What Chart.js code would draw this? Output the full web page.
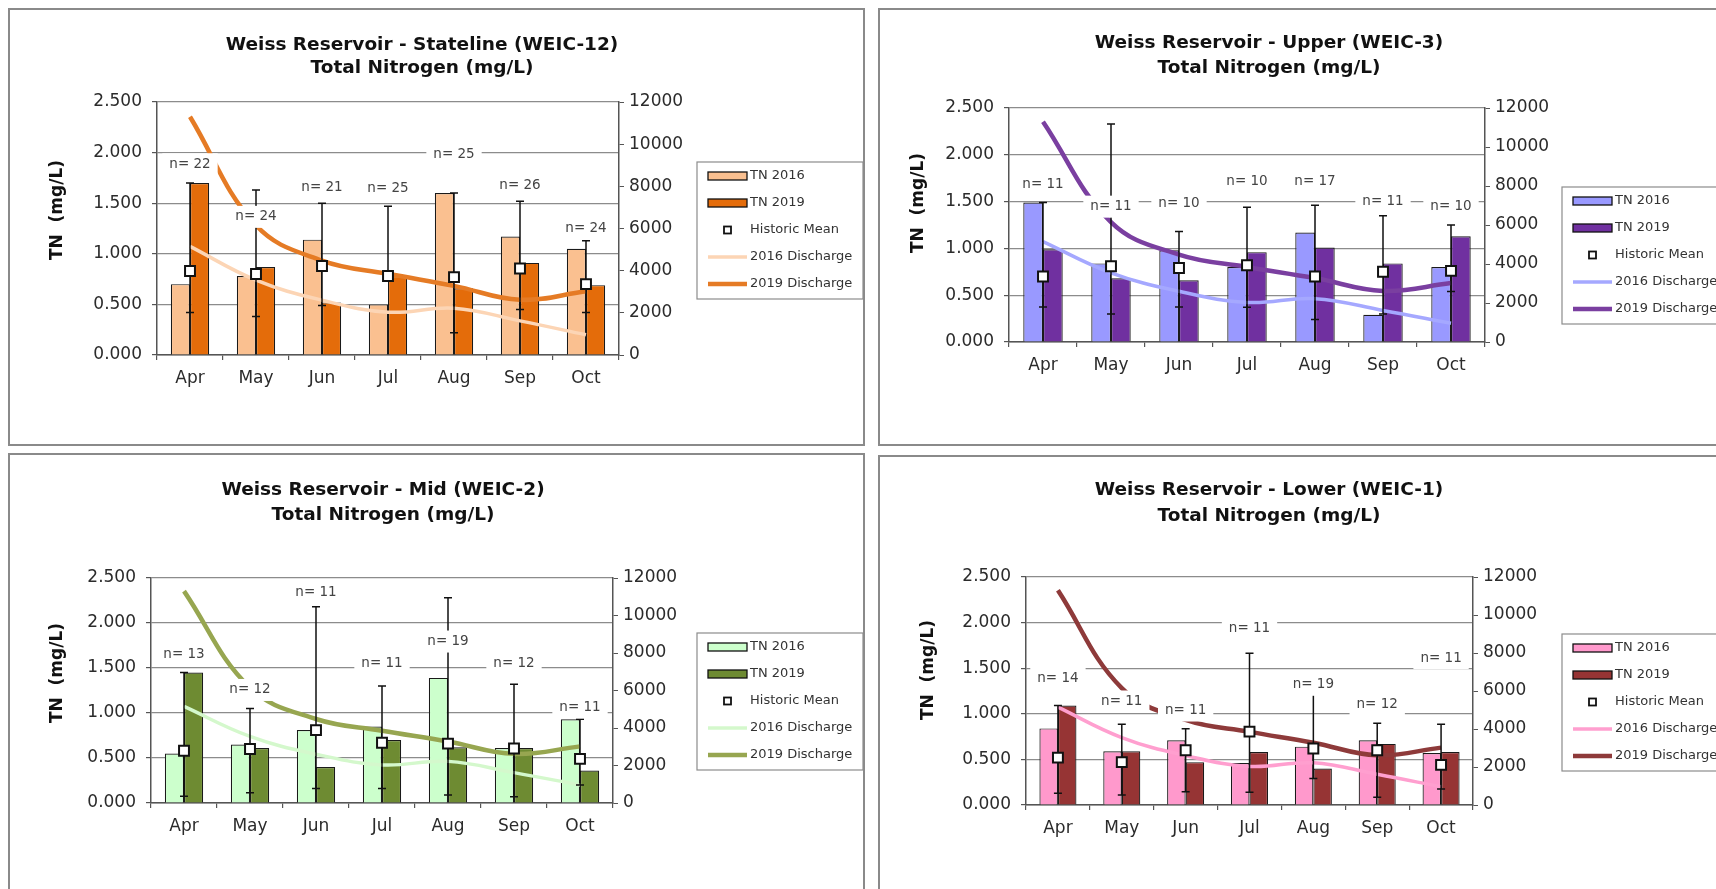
<!DOCTYPE html>
<html>
<head>
<meta charset="utf-8">
<script src="https://cdn.jsdelivr.net/npm/chart.js@4.4.1/dist/chart.umd.min.js"></script>
<style>
  html, body { margin: 0; padding: 0; background: #fff; }
  body { width: 1716px; height: 889px; position: relative; overflow: hidden; }
  .frame { position: absolute; border: 2px solid #8a8a8a; box-sizing: border-box; }
  canvas { position: absolute; }
</style>
</head>
<body>
<div class="frame" style="left:8px;top:8px;width:857px;height:438px"></div>
<div class="frame" style="left:878px;top:8px;width:845px;height:438px"></div>
<div class="frame" style="left:8px;top:453px;width:857px;height:445px"></div>
<div class="frame" style="left:878px;top:455px;width:845px;height:445px"></div>
<canvas id="c1" width="856" height="437" style="left:8px;top:8px"></canvas>
<canvas id="c2" width="838" height="437" style="left:878px;top:8px"></canvas>
<canvas id="c3" width="856" height="436" style="left:8px;top:453px"></canvas>
<canvas id="c4" width="838" height="434" style="left:878px;top:455px"></canvas>
<script>
const months = ["Apr", "May", "Jun", "Jul", "Aug", "Sep", "Oct"];
const leftTicks = [0, 0.5, 1.0, 1.5, 2.0, 2.5];
const rightTicks = [0, 2000, 4000, 6000, 8000, 10000, 12000];
const seriesNames = ["TN 2016", "TN 2019", "Historic Mean", "2016 Discharge", "2019 Discharge"];

// discharge is the same at every station
const discharge2016 = [5150, 3550, 2600, 2030, 2220, 1620, 960];
const discharge2019 = [11300, 6150, 4480, 3850, 3280, 2620, 3020];

// Stateline (WEIC-12)
const statelineTN2016 = [0.70, 0.78, 1.14, 0.50, 1.60, 1.17, 1.05];
const statelineTN2019 = [1.70, 0.87, 0.52, 0.78, 0.66, 0.91, 0.69];
const statelineMean = [0.83, 0.80, 0.88, 0.78, 0.77, 0.855, 0.70];
const statelineHigh = [1.70, 1.63, 1.50, 1.47, 1.60, 1.52, 1.13];
const statelineLow = [0.42, 0.38, 0.49, 0.74, 0.22, 0.45, 0.42];
const statelineN = [22, 24, 21, 25, 25, 26, 24];
const statelineNAt = [1.885, 1.365, 1.655, 1.645, 1.98, 1.67, 1.25];

// Upper (WEIC-3)
const upperTN2016 = [1.49, 0.84, 0.98, 0.80, 1.17, 0.29, 0.80];
const upperTN2019 = [0.99, 0.68, 0.66, 0.96, 1.01, 0.84, 1.13];
const upperMean = [0.70, 0.81, 0.79, 0.82, 0.70, 0.75, 0.76];
const upperHigh = [1.49, 2.33, 1.18, 1.44, 1.46, 1.35, 1.25];
const upperLow = [0.375, 0.30, 0.375, 0.37, 0.24, 0.30, 0.54];
const upperN = [11, 11, 10, 10, 17, 11, 10];
const upperNAt = [1.686, 1.446, 1.48, 1.72, 1.72, 1.50, 1.45];

// Mid (WEIC-2)
const midTN2016 = [0.55, 0.65, 0.81, 0.85, 1.39, 0.61, 0.93];
const midTN2019 = [1.45, 0.61, 0.40, 0.70, 0.62, 0.61, 0.36];
const midMean = [0.58, 0.60, 0.81, 0.67, 0.66, 0.605, 0.49];
const midHigh = [1.45, 1.05, 2.18, 1.30, 2.28, 1.32, 0.93];
const midLow = [0.074, 0.115, 0.16, 0.16, 0.09, 0.07, 0.20];
const midN = [13, 12, 11, 11, 19, 12, 11];
const midNAt = [1.646, 1.256, 2.34, 1.545, 1.794, 1.545, 1.062];

// Lower (WEIC-1)
const lowerTN2016 = [0.84, 0.59, 0.71, 0.46, 0.64, 0.71, 0.57];
const lowerTN2019 = [1.09, 0.59, 0.47, 0.58, 0.40, 0.67, 0.58];
const lowerMean = [0.52, 0.47, 0.60, 0.805, 0.62, 0.60, 0.44];
const lowerHigh = [1.09, 0.886, 0.835, 1.665, 1.226, 0.897, 0.886];
const lowerLow = [0.13, 0.11, 0.146, 0.14, 0.29, 0.084, 0.176];
const lowerN = [14, 11, 11, 11, 19, 12, 11];
const lowerNAt = [1.39, 1.135, 1.036, 1.93, 1.318, 1.098, 1.61];

const FONT = "'DejaVu Sans', sans-serif";
const TEXT = "#2b2b2b";

const panels = [
    {
        id: "c1", title: ["Weiss Reservoir - Stateline (WEIC-12)", "Total Nitrogen (mg/L)"],
        tn2016: statelineTN2016, tn2019: statelineTN2019, mean: statelineMean,
        high: statelineHigh, low: statelineLow, n: statelineN, nAt: statelineNAt,
        colors: { light: "#FAC090", dark: "#E46C0A", d16: "#FCD5B5", d19: "#E57B25" },
        area: { l: 149, r: 611, t: 94, b: 347 },
        titleX: 414, titleY: [37, 60], yTitle: [50, 202], legend: [689, 154]
    },
    {
        id: "c2", title: ["Weiss Reservoir - Upper (WEIC-3)", "Total Nitrogen (mg/L)"],
        tn2016: upperTN2016, tn2019: upperTN2019, mean: upperMean,
        high: upperHigh, low: upperLow, n: upperN, nAt: upperNAt,
        colors: { light: "#9999FF", dark: "#7030A0", d16: "#A5A8FF", d19: "#7A3FA0" },
        area: { l: 131, r: 607, t: 100, b: 334 },
        titleX: 391, titleY: [35, 60], yTitle: [41, 195], legend: [684, 179]
    },
    {
        id: "c3", title: ["Weiss Reservoir - Mid (WEIC-2)", "Total Nitrogen (mg/L)"],
        tn2016: midTN2016, tn2019: midTN2019, mean: midMean,
        high: midHigh, low: midLow, n: midN, nAt: midNAt,
        colors: { light: "#CCFFCC", dark: "#6E8B32", d16: "#D4F8CC", d19: "#97A650" },
        area: { l: 143, r: 605, t: 125, b: 350 },
        titleX: 375, titleY: [37, 62], yTitle: [50, 220], legend: [689, 180]
    },
    {
        id: "c4", title: ["Weiss Reservoir - Lower (WEIC-1)", "Total Nitrogen (mg/L)"],
        tn2016: lowerTN2016, tn2019: lowerTN2019, mean: lowerMean,
        high: lowerHigh, low: lowerLow, n: lowerN, nAt: lowerNAt,
        colors: { light: "#FF99CC", dark: "#963434", d16: "#FF9FCF", d19: "#8E3A3A" },
        area: { l: 148, r: 595, t: 122, b: 350 },
        titleX: 391, titleY: [35, 61], yTitle: [51, 215], legend: [684, 179]
    }
];

// titles, error bars, n= labels and the boxed legend
function decorPlugin(p) {
    return {
        id: "decor",
        beforeDatasetDraw(chart, args) {
            if (args.index !== 2) return;
            const { ctx, scales: { x, y } } = chart;
            ctx.save();
            ctx.strokeStyle = "#111";
            ctx.lineWidth = 1.5;
            for (let i = 0; i < months.length; i++) {
                const px = x.getPixelForValue(i);
                const yh = y.getPixelForValue(p.high[i]);
                const yl = y.getPixelForValue(p.low[i]);
                ctx.beginPath();
                ctx.moveTo(px, yh); ctx.lineTo(px, yl);
                ctx.moveTo(px - 4, yh); ctx.lineTo(px + 4, yh);
                ctx.moveTo(px - 4, yl); ctx.lineTo(px + 4, yl);
                ctx.stroke();
            }
            ctx.restore();
        },
        afterDatasetsDraw(chart) {
            const { ctx, scales: { x, y } } = chart;
            ctx.save();
            ctx.font = "13.5px " + FONT;
            ctx.textAlign = "center";
            ctx.textBaseline = "middle";
            for (let i = 0; i < months.length; i++) {
                const txt = "n= " + p.n[i];
                const px = x.getPixelForValue(i);
                const py = y.getPixelForValue(p.nAt[i]);
                const w = ctx.measureText(txt).width + 14;
                ctx.fillStyle = "#fff";
                ctx.fillRect(px - w / 2, py - 11, w, 22);
                ctx.fillStyle = "#444";
                ctx.fillText(txt, px, py);
            }
            ctx.restore();
        },
        afterDraw(chart) {
            const ctx = chart.ctx;
            ctx.save();
            // chart title
            ctx.fillStyle = "#111";
            ctx.font = "bold 18.5px " + FONT;
            ctx.textAlign = "center";
            ctx.textBaseline = "middle";
            ctx.fillText(p.title[0], p.titleX, p.titleY[0]);
            ctx.fillText(p.title[1], p.titleX, p.titleY[1]);
            // y axis title
            ctx.save();
            ctx.translate(p.yTitle[0], p.yTitle[1]);
            ctx.rotate(-Math.PI / 2);
            ctx.font = "bold 17px " + FONT;
            ctx.fillText("TN  (mg/L)", 0, 0);
            ctx.restore();
            // legend
            const lx = p.legend[0], ly = p.legend[1];
            ctx.fillStyle = "#fff";
            ctx.strokeStyle = "#8c8c8c";
            ctx.lineWidth = 1.2;
            ctx.fillRect(lx, ly, 166, 137);
            ctx.strokeRect(lx, ly, 166, 137);
            ctx.font = "13px " + FONT;
            ctx.textAlign = "left";
            chart.data.datasets.forEach((ds, i) => {
                const cy = ly + 14 + i * 27;
                const sx = lx + 11;
                if (ds.type === "bar") {
                    ctx.fillStyle = ds.backgroundColor;
                    ctx.fillRect(sx, cy - 4, 39, 8);
                    ctx.strokeStyle = "#111";
                    ctx.lineWidth = 1.3;
                    ctx.strokeRect(sx, cy - 4, 39, 8);
                } else if (ds.showLine === false) {
                    ctx.fillStyle = "#fff";
                    ctx.strokeStyle = "#111";
                    ctx.lineWidth = 1.8;
                    ctx.fillRect(sx + 16, cy - 3.5, 7, 7);
                    ctx.strokeRect(sx + 16, cy - 3.5, 7, 7);
                } else {
                    ctx.strokeStyle = ds.borderColor;
                    ctx.lineWidth = ds.borderWidth;
                    ctx.beginPath();
                    ctx.moveTo(sx, cy); ctx.lineTo(sx + 39, cy);
                    ctx.stroke();
                }
                ctx.fillStyle = "#333";
                ctx.fillText(ds.label, lx + 53, cy);
            });
            ctx.restore();
        }
    };
}

function buildChart(p) {
    const canvas = document.getElementById(p.id);
    const W = canvas.width, H = canvas.height;
    const tickFont = { family: FONT, size: 17 };
    return new Chart(canvas.getContext("2d"), {
        type: "bar",
        data: {
            labels: months,
            datasets: [
                { type: "bar", label: seriesNames[0], data: p.tn2016, backgroundColor: p.colors.light,
                  borderColor: "#1a1a1a", borderWidth: 1.2, yAxisID: "y", order: 9,
                  categoryPercentage: 0.58, barPercentage: 1 },
                { type: "bar", label: seriesNames[1], data: p.tn2019, backgroundColor: p.colors.dark,
                  borderColor: "#1a1a1a", borderWidth: 1.2, yAxisID: "y", order: 10,
                  categoryPercentage: 0.58, barPercentage: 1 },
                { type: "line", label: seriesNames[2], data: p.mean, showLine: false, pointStyle: "rect",
                  pointRadius: 7, pointBackgroundColor: "#fff", pointBorderColor: "#111",
                  pointBorderWidth: 2, yAxisID: "y", order: 1 },
                { type: "line", label: seriesNames[3], data: discharge2016, borderColor: p.colors.d16,
                  borderWidth: 3.5, pointRadius: 0, tension: 0.4, fill: false, yAxisID: "y2", order: 4 },
                { type: "line", label: seriesNames[4], data: discharge2019, borderColor: p.colors.d19,
                  borderWidth: 4.5, pointRadius: 0, tension: 0.4, fill: false, yAxisID: "y2", order: 3 }
            ]
        },
        options: {
            responsive: false,
            animation: false,
            layout: { padding: { left: 0, right: 0, top: p.area.t, bottom: 0 } },
            plugins: { legend: { display: false }, tooltip: { enabled: false } },
            scales: {
                x: {
                    offset: true,
                    grid: { drawOnChartArea: false, offset: true, tickLength: 5, color: "#555", lineWidth: 1.2 },
                    border: { color: "#555", width: 1.5 },
                    ticks: { color: TEXT, font: tickFont, padding: 8, maxRotation: 0 },
                    afterFit(s) { s.height = H - p.area.b; }
                },
                y: {
                    position: "left", min: 0, max: 2.5,
                    afterBuildTicks(s) { s.ticks = leftTicks.map(v => ({ value: v })); },
                    ticks: { color: TEXT, font: tickFont, padding: 10, callback: v => v.toFixed(3) },
                    grid: { color: "#8c8c8c", lineWidth: 1.2, tickLength: 5, tickColor: "#555" },
                    border: { color: "#555", width: 1.5 },
                    afterFit(s) { s.width = p.area.l; }
                },
                y2: {
                    position: "right", min: 0, max: 12000,
                    afterBuildTicks(s) { s.ticks = rightTicks.map(v => ({ value: v })); },
                    ticks: { color: TEXT, font: tickFont, padding: 5, callback: v => String(v) },
                    grid: { drawOnChartArea: false, tickLength: 5, color: "#555" },
                    border: { color: "#555", width: 1.5 },
                    afterFit(s) { s.width = W - p.area.r; }
                }
            }
        },
        plugins: [decorPlugin(p)]
    });
}

panels.forEach(buildChart);
</script>
</body>
</html>
